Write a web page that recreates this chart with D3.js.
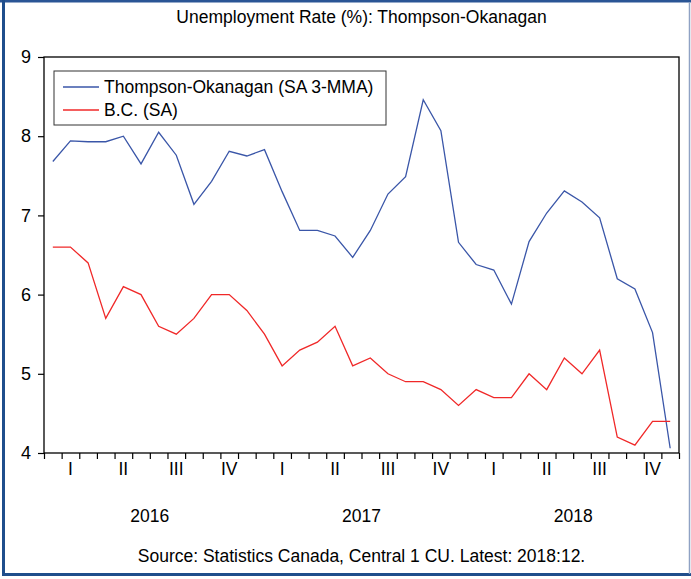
<!DOCTYPE html>
<html>
<head>
<meta charset="utf-8">
<script src="https://cdn.jsdelivr.net/npm/d3@7"></script>
<style>
  body { margin: 0; background: #fff; }
  svg { display: block; font-family: "Liberation Sans", Arial, sans-serif; }
</style>
</head>
<body>
<div id="chart"></div>
<script>
// monthly, Jan 2016 .. Dec 2018
var years = ['2016', '2017', '2018'];
var quarters = ['I', 'II', 'III', 'IV'];
var yTicks = [4, 5, 6, 7, 8, 9];

var thompson = [7.68, 7.94, 7.93, 7.93, 8.00, 7.65, 8.05, 7.76, 7.14, 7.43, 7.81, 7.75,
  7.83, 7.30, 6.81, 6.81, 6.74, 6.47, 6.81, 7.27, 7.49, 8.46, 8.07, 6.66,
  6.38, 6.31, 5.88, 6.67, 7.03, 7.31, 7.17, 6.97, 6.20, 6.07, 5.52, 4.06];
var bc = [6.6, 6.6, 6.4, 5.7, 6.1, 6.0, 5.6, 5.5, 5.7, 6.0, 6.0, 5.8,
  5.5, 5.1, 5.3, 5.4, 5.6, 5.1, 5.2, 5.0, 4.9, 4.9, 4.8, 4.6,
  4.8, 4.7, 4.7, 5.0, 4.8, 5.2, 5.0, 5.3, 4.2, 4.1, 4.4, 4.4];

var seriesNames = ['Thompson-Okanagan (SA 3-MMA)', 'B.C. (SA)'];
var seriesColors = ['#3a56a8', '#f02828'];

var W = 691, H = 579;
var margin = {top: 57, right: 12, bottom: 126, left: 44};
var width = W - margin.left - margin.right,
    height = H - margin.top - margin.bottom;
var fs = '17.5px';

var months = d3.range(thompson.length);

var svg = d3.select('#chart').append('svg')
  .attr('width', W)
  .attr('height', H);

// outer frame
svg.append('line').attr('x1', 0).attr('x2', W).attr('y1', 1).attr('y2', 1)
  .attr('stroke', '#2a5595').attr('stroke-width', 3);
svg.append('line').attr('x1', 3.5).attr('x2', 3.5).attr('y1', 0).attr('y2', 576)
  .attr('stroke', '#1f4e8c').attr('stroke-width', 3);
svg.append('line').attr('x1', 2).attr('x2', W).attr('y1', 574.5).attr('y2', 574.5)
  .attr('stroke', '#1f4e8c').attr('stroke-width', 3);
svg.append('line').attr('x1', 689.5).attr('x2', 689.5).attr('y1', 2).attr('y2', 574)
  .attr('stroke', '#8fa2c4').attr('stroke-width', 1.5);

svg.append('text')
  .attr('x', margin.left + width / 2)
  .attr('y', 23)
  .attr('text-anchor', 'middle')
  .style('font-size', fs)
  .text('Unemployment Rate (%): Thompson-Okanagan');

var g = svg.append('g')
  .attr('transform', 'translate(' + margin.left + ',' + margin.top + ')');

var x = d3.scaleLinear()
  .domain([0, months.length])
  .range([0, width]);

var y = d3.scaleLinear()
  .domain([4, 9])
  .range([height, 0]);

// month ticks along the bottom
g.append('g')
  .attr('transform', 'translate(0,' + height + ')')
  .call(d3.axisBottom(x)
    .tickValues(d3.range(0, months.length + 1))
    .tickSize(6)
    .tickFormat(''))
  .call(a => a.select('.domain').remove())
  .call(a => a.selectAll('.tick line').attr('stroke', '#000').attr('stroke-width', 1.2));

g.append('g')
  .call(d3.axisLeft(y)
    .tickValues(yTicks)
    .tickFormat(d3.format('d'))
    .tickSize(6)
    .tickPadding(7))
  .call(a => a.select('.domain').remove())
  .call(a => a.selectAll('.tick line').attr('stroke-width', 1.2))
  .call(a => a.selectAll('.tick text')
    .style('font-size', '18px')
    .style('font-family', '"Liberation Sans", Arial, sans-serif')
    .attr('fill', '#000'));

// quarter + year labels
var qLabels = [];
years.forEach(function (yr, yi) {
  quarters.forEach(function (q, qi) {
    qLabels.push({label: q, pos: yi * 12 + qi * 3 + 1.5});
  });
});

g.selectAll('.qlab').data(qLabels).enter().append('text')
  .attr('class', 'qlab')
  .attr('x', d => x(d.pos))
  .attr('y', height + 22)
  .attr('text-anchor', 'middle')
  .style('font-size', fs)
  .text(d => d.label);

g.selectAll('.ylab').data(years).enter().append('text')
  .attr('class', 'ylab')
  .attr('x', (d, i) => x(i * 12 + 6))
  .attr('y', height + 69)
  .attr('text-anchor', 'middle')
  .style('font-size', fs)
  .text(d => d);

// lines
var line = d3.line()
  .x((d, i) => x(i + 0.5))
  .y(d => y(d));

[thompson, bc].forEach(function (s, i) {
  g.append('path')
    .datum(s)
    .attr('fill', 'none')
    .attr('stroke', seriesColors[i])
    .attr('stroke-width', 1.3)
    .attr('d', line);
});

// plot frame
g.append('rect')
  .attr('width', width)
  .attr('height', height)
  .attr('fill', 'none')
  .attr('stroke', '#000')
  .attr('stroke-width', 1.3);

// legend
var legend = g.append('g').attr('transform', 'translate(10,14)');
legend.append('rect')
  .attr('width', 332)
  .attr('height', 54)
  .attr('fill', '#fff')
  .attr('stroke', '#333')
  .attr('stroke-width', 1);
seriesNames.forEach(function (name, i) {
  var row = legend.append('g').attr('transform', 'translate(0,' + (16 + i * 23) + ')');
  row.append('line')
    .attr('x1', 9).attr('x2', 45)
    .attr('stroke', seriesColors[i])
    .attr('stroke-width', 1.3);
  row.append('text')
    .attr('x', 50)
    .attr('dy', '0.35em')
    .style('font-size', fs)
    .text(name);
});

svg.append('text')
  .attr('x', margin.left + width / 2)
  .attr('y', 562)
  .attr('text-anchor', 'middle')
  .style('font-size', fs)
  .text('Source: Statistics Canada, Central 1 CU. Latest: 2018:12.');
</script>
</body>
</html>
